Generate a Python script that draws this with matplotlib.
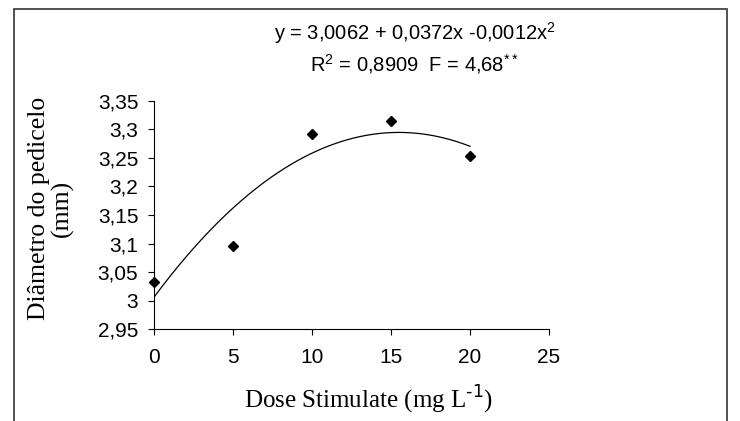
import numpy as np
import matplotlib
matplotlib.use("Agg")
import matplotlib.pyplot as plt
from matplotlib.patches import Rectangle

# Dados
doses = [0, 5, 10, 15, 20]
diametro = [3.0335, 3.0965, 3.291, 3.3138, 3.2527]
coef = [3.0062, 0.0372, -0.0012]  # y = a + b x + c x^2
xticks = [0, 5, 10, 15, 20, 25]
yticks = [2.95, 3.0, 3.05, 3.1, 3.15, 3.2, 3.25, 3.3, 3.35]
ytick_labels = ["2,95", "3", "3,05", "3,1", "3,15", "3,2", "3,25", "3,3", "3,35"]

fig = plt.figure(figsize=(7.4, 4.21), dpi=100)
ax = fig.add_axes([154 / 740, 1 - 329.3 / 421, 395 / 740, 228.6 / 421])

# Curva ajustada
xs = np.linspace(0, 20, 200)
ys = coef[0] + coef[1] * xs + coef[2] * xs ** 2
ax.plot(xs, ys, color="black", linewidth=0.9)
ax.plot(doses, diametro, linestyle="none", marker="D", markersize=5.5,
        color="black", clip_on=False)

ax.set_xlim(0, 25)
ax.set_ylim(2.95, 3.35)
ax.set_xticks(xticks)
ax.set_xticklabels([str(t) for t in xticks], fontsize=15, family="Liberation Sans")
ax.set_yticks(yticks)
ax.set_yticklabels(ytick_labels, fontsize=15, family="Liberation Sans")
ax.tick_params(direction="out", length=4.3, width=0.8)
ax.tick_params(axis="x", pad=9)
ax.tick_params(axis="y", pad=7)
for s in ["top", "right"]:
    ax.spines[s].set_visible(False)
for s in ["left", "bottom"]:
    ax.spines[s].set_linewidth(0.8)

# Rótulos dos eixos
fig.text(369 / 740, 1 - 400 / 421, "Dose Stimulate (mg L$^{\\text{-1}}$)",
         ha="center", va="center", fontsize=18, family="Liberation Serif")
fig.text(51 / 740, 1 - 208.5 / 421, "Diâmetro do pedicelo\n(mm)",
         ha="center", va="center", rotation=90, fontsize=18.5,
         family="Liberation Serif", linespacing=1.0, multialignment="center")

# Equação
fig.text(415 / 740, 1 - 33 / 421,
         "y = 3,0062 + 0,0372x -0,0012x$^{\\mathregular{2}}$",
         ha="center", va="center", fontsize=14.5, family="Liberation Sans")
fig.text(414 / 740, 1 - 64 / 421,
         "R$^{\\mathregular{2}}$ = 0,8909  F = 4,68$^{\\mathregular{**}}$",
         ha="center", va="center", fontsize=14.5, family="Liberation Sans")

# Moldura
fig.patches.append(Rectangle((14 / 740, -0.1), 713 / 740, 1.1 - 9 / 421,
                             transform=fig.transFigure, fill=False,
                             edgecolor="#333333", linewidth=1.2))

fig.savefig("out.png", dpi=100)
